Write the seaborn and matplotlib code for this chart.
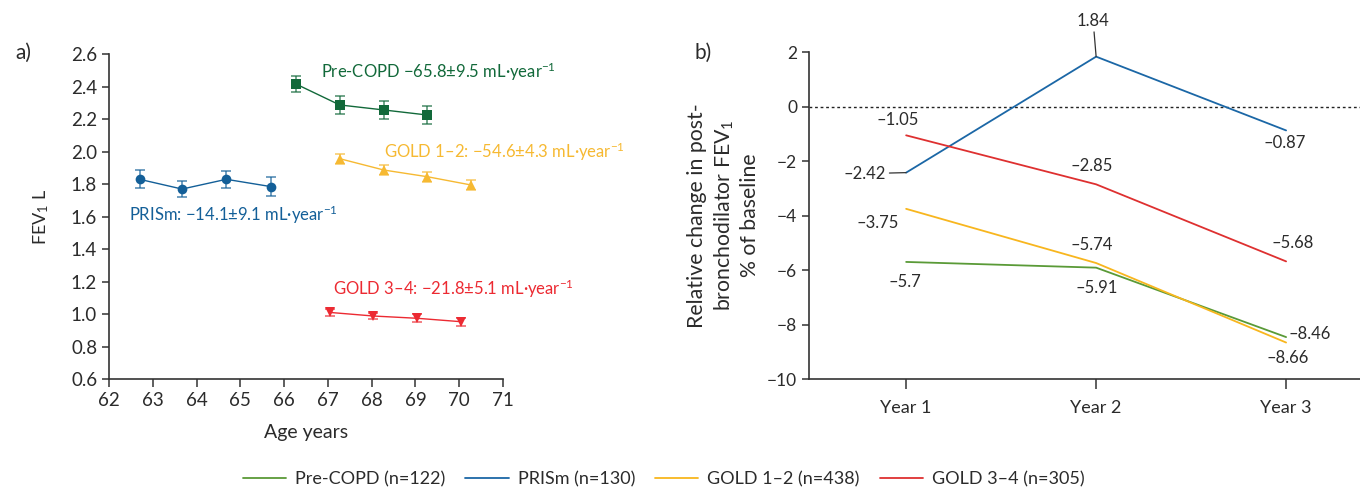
import numpy as np
import pandas as pd
import seaborn as sns
import matplotlib.pyplot as plt
from matplotlib.lines import Line2D

# group names
groups = ["Pre-COPD", "PRISm", "GOLD 1–2", "GOLD 3–4"]
n_per_group = [122, 130, 438, 305]

# panel a: FEV1 (L) by age, mean and error
age_pre = [66.27, 67.27, 68.28, 69.27]
fev_pre = [2.417, 2.288, 2.257, 2.226]
err_pre = [0.048, 0.057, 0.057, 0.057]

age_prism = [62.70, 63.67, 64.68, 65.70]
fev_prism = [1.830, 1.770, 1.830, 1.785]
err_prism = [0.055, 0.047, 0.054, 0.057]

age_g12 = [67.27, 68.28, 69.27, 70.27]
fev_g12 = [1.957, 1.887, 1.846, 1.795]
err_g12 = [0.031, 0.030, 0.030, 0.030]

age_g34 = [67.05, 68.04, 69.04, 70.04]
fev_g34 = [1.010, 0.988, 0.974, 0.953]
err_g34 = [0.020, 0.020, 0.025, 0.025]

slope_text = ["Pre-COPD \u221265.8\u00b19.5 mL\u00b7year$^{\u22121}$",
              "PRISm: \u221214.1\u00b19.1 mL\u00b7year$^{\u22121}$",
              "GOLD 1\u20132: \u221254.6\u00b14.3 mL\u00b7year$^{\u22121}$",
              "GOLD 3\u20134: \u221221.8\u00b15.1 mL\u00b7year$^{\u22121}$"]

# panel b: relative change in post-BD FEV1, % of baseline
years = ["Year 1", "Year 2", "Year 3"]
pct_pre = [-5.70, -5.91, -8.46]
pct_prism = [-2.42, 1.84, -0.87]
pct_g12 = [-3.75, -5.74, -8.66]
pct_g34 = [-1.05, -2.85, -5.68]

colors_a = {"Pre-COPD": "#12693a", "PRISm": "#135f98", "GOLD 1–2": "#f6b932", "GOLD 3–4": "#ec2a32"}
colors_b = {"Pre-COPD": "#5a9a37", "PRISm": "#1b67a6", "GOLD 1–2": "#f8b61e", "GOLD 3–4": "#de3030"}
markers_a = {"Pre-COPD": "s", "PRISm": "o", "GOLD 1–2": "^", "GOLD 3–4": "v"}

sns.set_theme(style="ticks")
plt.rcParams["font.family"] = ["Lato", "DejaVu Sans"]
plt.rcParams["mathtext.fontset"] = "custom"
plt.rcParams["mathtext.rm"] = "Lato"
plt.rcParams["mathtext.default"] = "regular"
text_col = "#2b2b2b"

ages = [age_pre, age_prism, age_g12, age_g34]
fevs = [fev_pre, fev_prism, fev_g12, fev_g34]
errs = [err_pre, err_prism, err_g12, err_g34]
df_a = pd.concat([pd.DataFrame({"age": a, "fev": f, "err": e, "group": g})
                  for g, a, f, e in zip(groups, ages, fevs, errs)], ignore_index=True)

pcts = [pct_pre, pct_prism, pct_g12, pct_g34]
df_b = pd.concat([pd.DataFrame({"pos": np.arange(1, len(years) + 1), "pct": p, "group": g})
                  for g, p in zip(groups, pcts)], ignore_index=True)

fig = plt.figure(figsize=(13.6, 4.9), dpi=100)
ax1 = fig.add_axes([0.0801, 0.2265, 0.2898, 0.6627])
ax2 = fig.add_axes([0.5949, 0.2265, 0.4051, 0.6668])

# ---- panel a
for g in groups:
    sub = df_a[df_a.group == g]
    ax1.errorbar(sub.age, sub.fev, yerr=sub.err, fmt="none", ecolor=colors_a[g],
                 alpha=0.7, elinewidth=1.2, capsize=3.5, capthick=1.2, zorder=2)
sns.lineplot(data=df_a, x="age", y="fev", hue="group", style="group", hue_order=groups,
             palette=colors_a, markers=markers_a, dashes=False, markersize=7,
             markeredgewidth=0, linewidth=1.0, legend=False, ax=ax1, zorder=3)

ax1.set_xlim(62, 71)
ax1.set_ylim(0.6, 2.6)
ax1.set_xticks(range(62, 72))
ax1.set_yticks(np.arange(0.6, 2.61, 0.2))
ax1.yaxis.set_major_formatter(plt.FormatStrFormatter("%.1f"))
ax1.set_xlabel("Age years", fontsize=14, color=text_col, labelpad=11)
ax1.set_ylabel("FEV$_1$ L", fontsize=13, color=text_col, labelpad=14)

slope_pos = [(66.84, 2.49), (62.46, 1.614), (68.28, 2.00), (67.11, 1.158)]
for g, txt, (x, y) in zip(groups, slope_text, slope_pos):
    ax1.text(x, y, txt, color=colors_a[g], fontsize=12, ha="left", va="center")

# ---- panel b
sns.lineplot(data=df_b, x="pos", y="pct", hue="group", hue_order=groups,
             palette=colors_b, linewidth=1.3, legend=False, ax=ax2)
ax2.axhline(0, color="#222222", linestyle=(0, (2, 2)), linewidth=1.0, zorder=1)
ax2.set_xlim(0.489, 3.389)
ax2.set_ylim(-10, 2)
ax2.set_xticks(range(1, len(years) + 1), years)
ax2.set_yticks(range(-10, 3, 2))
ax2.set_xlabel("")
ax2.set_ylabel("Relative change in post-\nbronchodilator FEV$_1$\n% of baseline",
               fontsize=15.3, color=text_col, labelpad=5, linespacing=1.28)

# value labels: offsets in pixels from each point, alignment, leader line
label_style = {
    "Pre-COPD": [(-1, -20, "center", False), (1, -20, "center", False), (2, 3, "left", False)],
    "PRISm": [(-20, -1, "right", True), (-3, 36, "center", True), (-1, -13, "center", False)],
    "GOLD 1–2": [(-28, -14, "center", False), (-4, 18, "center", False), (2, -15, "center", False)],
    "GOLD 3–4": [(-8, 15, "center", False), (-4, 18, "center", False), (7, 18, "center", False)],
}
for g, p in zip(groups, pcts):
    for i, v in enumerate(p):
        dx, dy, ha, leader = label_style[g][i]
        kw = {}
        if leader:
            kw["arrowprops"] = dict(arrowstyle="-", color="#333333", lw=0.9,
                                    shrinkA=0, shrinkB=0)
        lab = f"{v:.2f}".rstrip("0").replace("-", "\u2013")
        ax2.annotate(lab, xy=(i + 1, v), xytext=(dx, dy), textcoords="offset pixels",
                     ha=ha, va="center", fontsize=12, color=text_col, **kw)

for ax in (ax1, ax2):
    sns.despine(ax=ax)
    for s in ("left", "bottom"):
        ax.spines[s].set_color("#333333")
        ax.spines[s].set_linewidth(1.2)
    ax.tick_params(axis="both", direction="out", length=5, width=1.1, color="#333333",
                   labelsize=12.5, labelcolor=text_col)
    ax.set_facecolor("white")
ax1.tick_params(axis="both", labelsize=13.5)
ax1.tick_params(axis="x", length=6)
ax2.tick_params(axis="x", length=7, pad=8, labelsize=13)

fig.text(0.011, 0.892, "a)", fontsize=15, color=text_col, va="center")
fig.text(0.511, 0.892, "b)", fontsize=15, color=text_col, va="center")

handles = [Line2D([], [], color=colors_b[g], lw=1.3) for g in groups]
labels = [f"{g} (n={n})" for g, n in zip(groups, n_per_group)]
fig.legend(handles, labels, loc="center", bbox_to_anchor=(0.488, 0.022), ncol=4,
           frameon=False, fontsize=13, handlelength=2.4, columnspacing=1.1,
           handletextpad=0.5, labelcolor=text_col)

fig.savefig("out.png", dpi=100, facecolor="white")
